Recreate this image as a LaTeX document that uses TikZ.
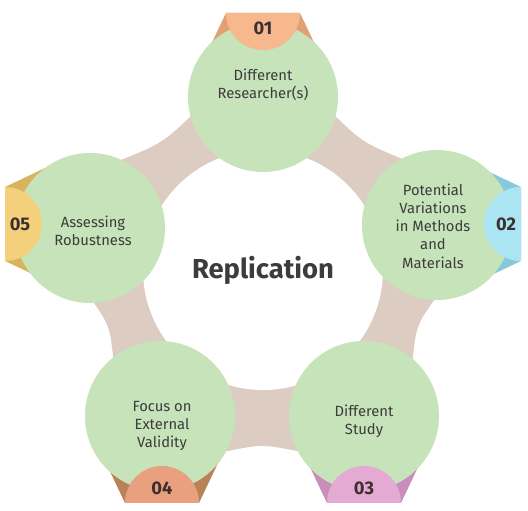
\documentclass[tikz,border=0pt]{standalone}
\usepackage{fontspec}
\setmainfont{Fira Sans}
\usepackage{xcolor}
\usepackage{tikz}
\usetikzlibrary{calc,positioning}

\definecolor{leaf}{HTML}{C6E3B9}
\definecolor{sand}{HTML}{DCCCC2}
\definecolor{ink}{HTML}{3C3C3C}
\definecolor{numink}{HTML}{3A3030}
\definecolor{tabA}{HTML}{F7B88E}\definecolor{tabAd}{HTML}{E0A074}
\definecolor{tabB}{HTML}{ABE4F2}\definecolor{tabBd}{HTML}{86C9DC}
\definecolor{tabC}{HTML}{E4AAD3}\definecolor{tabCd}{HTML}{C98DBA}
\definecolor{tabD}{HTML}{E9A07E}\definecolor{tabDd}{HTML}{BA8259}
\definecolor{tabE}{HTML}{F5D07C}\definecolor{tabEd}{HTML}{D9B45E}

\begin{document}
\begin{tikzpicture}[x=0.025cm,y=0.025cm,
	bubble/.style={circle,fill=leaf,minimum size=3.75cm,inner sep=0pt},
	lbl/.style={align=center,text=ink,font=\fontsize{10.5}{13}\selectfont},
	num/.style={text=numink,font=\bfseries\fontsize{13}{14}\selectfont},
	title/.style={text=ink,font=\bfseries\fontsize{19.5}{22}\selectfont}]
		\useasboundingbox (0,0) rectangle (528,-511);
		\coordinate (ctr) at (263,-270);
		\coordinate (p1) at (263,-97);
		\coordinate (p2) at (437,-225);
		\coordinate (p3) at (364,-416);
		\coordinate (p4) at (160,-416);
		\coordinate (p5) at (90,-228);
		% band between the bubbles
		\fill[sand] (p1) -- (330,-111) .. controls (363,-143) .. (410,-162)
			-- (p2) -- (440,-292) .. controls (416,-325) .. (412,-366)
			-- (p3) -- (302,-452) .. controls (262,-444) .. (223,-452)
			-- (p4) -- (114,-366) .. controls (110,-325) .. (86,-292)
			-- (p5) -- (116,-162) .. controls (163,-143) .. (196,-111) -- cycle;
		\fill[white] (ctr) circle (120);
		% folded part of the tabs
		\foreach \x/\y/\r/\lite/\dark/\n in {263/13/0/tabA/tabAd/01,521/224/-90/tabB/tabBd/02,364/503/180/tabC/tabCd/03,162/503/180/tabD/tabDd/04,5/224/90/tabE/tabEd/05}
		{
			\begin{scope}[shift={(\x,-\y)},rotate=\r]
				\fill[\dark] (-37,0) -- (37,0) -- (56,-40) -- (-56,-40) -- cycle;
			\end{scope}
		}
		% bubbles
		\node[bubble] (c1) at (p1) {};
		\node[bubble] (c2) at (p2) {};
		\node[bubble] (c3) at (p3) {};
		\node[bubble] (c4) at (p4) {};
		\node[bubble] (c5) at (p5) {};
		% tabs
		\foreach \x/\y/\r/\lite/\dark/\n in {263/13/0/tabA/tabAd/01,521/224/-90/tabB/tabBd/02,364/503/180/tabC/tabCd/03,162/503/180/tabD/tabDd/04,5/224/90/tabE/tabEd/05}
		{
			\begin{scope}[shift={(\x,-\y)},rotate=\r]
				\fill[\lite] (-37,0) arc[start angle=180,end angle=360,radius=37] -- cycle;
				\node[num] (n\n) at (0,-15) {\n};
			\end{scope}
		}
		\node[lbl] (t1) at (263,-85) {Different\\Researcher(s)};
		\node[lbl] (t2) at (433,-226) {Potential\\Variations\\in Methods\\and\\Materials};
		\node[lbl] (t3) at (364,-421) {Different\\Study};
		\node[lbl] (t4) at (162,-426) {Focus on\\External\\Validity};
		\node[lbl] (t5) at (93,-231) {Assessing\\Robustness};
		\node[title] (rep) at (ctr) {Replication};
	\end{tikzpicture}
\end{document}
